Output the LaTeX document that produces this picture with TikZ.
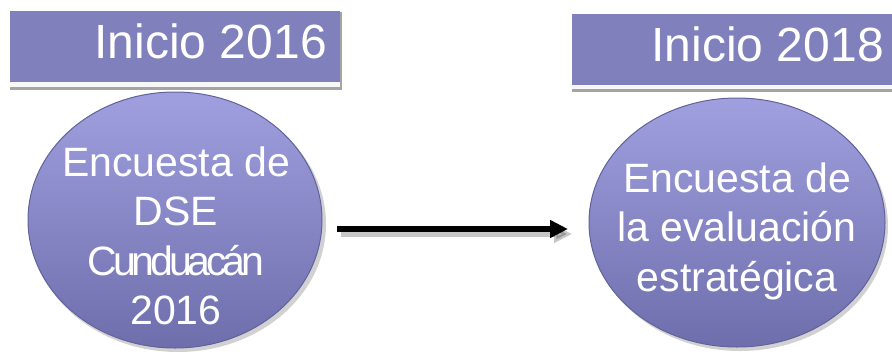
\documentclass[tikz,border=0pt]{standalone}
\usepackage{fontspec}
\setmainfont{Liberation Sans}
\newfontfamily\condensedfont[LetterSpace=-10]{Liberation Sans}
\usetikzlibrary{shapes.geometric,arrows.meta}
\definecolor{headpurple}{HTML}{8080BC}
\definecolor{elltop}{HTML}{A0A0E0}
\definecolor{ellbot}{HTML}{6E6EAC}
\definecolor{elledge}{HTML}{62629A}
\definecolor{barline}{HTML}{A4A4A4}
\tikzset{
  headbox/.style={rectangle, fill=headpurple, draw=none, inner sep=0pt},
  headbar/.style={rectangle, fill=barline, draw=none, inner sep=0pt},
  headtext/.style={text=white, font=\fontsize{48}{50}\selectfont, inner sep=0pt},
  bubble/.style={ellipse, draw=elledge, line width=1pt, top color=elltop, bottom color=ellbot, inner sep=0pt},
  bubshadow/.style={ellipse, fill=black, opacity=0.18, draw=none, inner sep=0pt},
  bubtext/.style={text=white, align=center, font=\fontsize{41}{49.5}\selectfont, inner sep=0pt},
  flow/.style={line width=6pt, -{Triangle[length=18pt,width=17pt]}},
  flowshadow/.style={line width=6pt, draw=black, opacity=0.22, -{Triangle[length=18pt,width=17pt]}}
}
\begin{document}
\begin{tikzpicture}[x=1pt,y=-1pt]
\useasboundingbox (0,0) rectangle (892,354);
\clip (0,0) rectangle (892,354);
% header 1
\node[headbar, minimum width=332pt, minimum height=78pt] (hb1) at (176,50.5) {};
\node[rectangle, fill=white!94!gray, inner sep=0pt, minimum width=330pt, minimum height=5pt] (hs1) at (175,84.5) {};
\node[headbox, minimum width=330pt, minimum height=71pt] (h1) at (175,46.5) {};
\node[headtext, anchor=base east] (ht1) at (327,58) {Inicio 2016};
% header 2
\node[headbar, minimum width=332pt, minimum height=78pt] (hb2) at (738,52.5) {};
\node[rectangle, fill=white!94!gray, inner sep=0pt, minimum width=330pt, minimum height=5pt] (hs2) at (737,86.5) {};
\node[headbox, minimum width=330pt, minimum height=71pt] (h2) at (737,49) {};
\node[headtext, anchor=base east] (ht2) at (884,61) {Inicio 2018};
% ellipses
\node[bubshadow, minimum width=296pt, minimum height=256pt] (s1) at (178,224) {};
\node[bubble, minimum width=294pt, minimum height=256pt] (e1) at (175,220) {};
\node[bubshadow, minimum width=296pt, minimum height=250pt] (s2) at (740,226) {};
\node[bubble, minimum width=296pt, minimum height=249pt] (e2) at (737,222.5) {};
\node[bubtext] (t1) at (176,236) {Encuesta de\\DSE\\{\condensedfont Cunduacán}\\2016};
\node[bubtext] (t2) at (737,231) {Encuesta de\\la evaluación\\estratégica};
% arrow
\coordinate (a1) at (337,229);
\coordinate (a2) at (568,229);
\coordinate (sa1) at (341,234);
\coordinate (sa2) at (572,234);
\draw[flowshadow] (sa1) -- (sa2);
\draw[flow] (a1) -- (a2);
\end{tikzpicture}
\end{document}
